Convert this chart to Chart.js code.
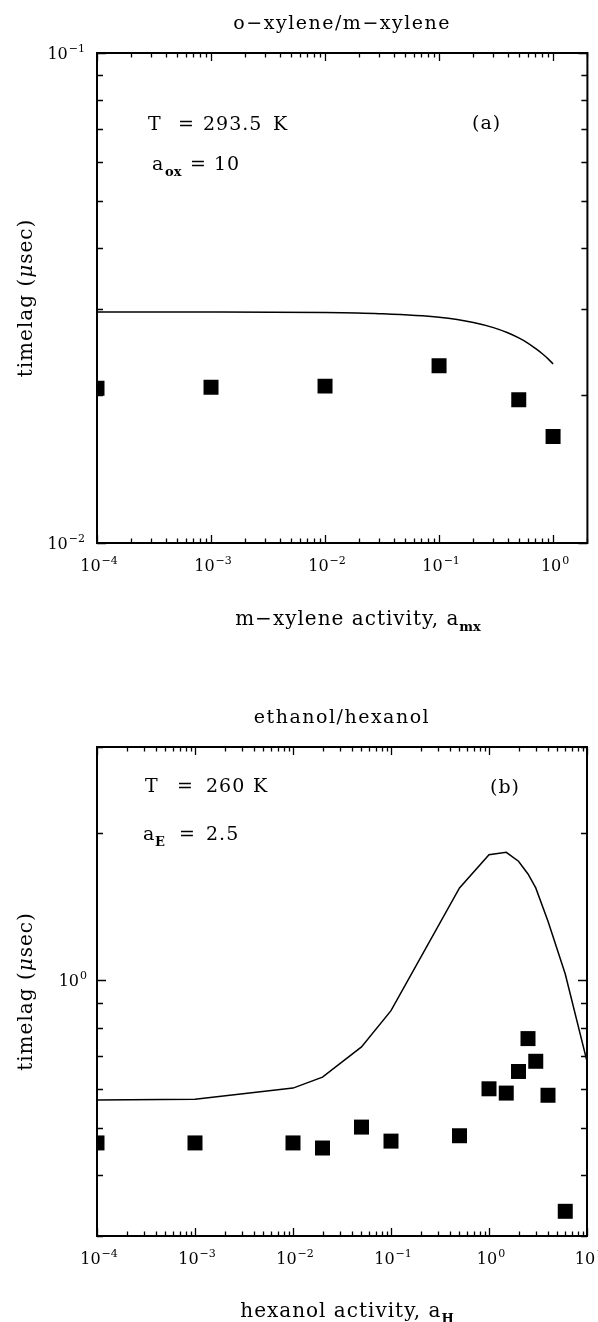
<!DOCTYPE html>
<html>
<head>
<meta charset="utf-8">
<script src="https://cdn.jsdelivr.net/npm/chart.js@4.4.1/dist/chart.umd.min.js"></script>
<style>
  html, body { margin: 0; padding: 0; background: #fff; }
  #wrap { position: relative; width: 598px; height: 1322px; overflow: hidden; }
  canvas { position: absolute; left: 0; }
</style>
</head>
<body>
<div id="wrap">
  <canvas id="chartA" width="598" height="650" style="top:0"></canvas>
  <canvas id="chartB" width="598" height="672" style="top:650px"></canvas>
</div>
<script>
// ---- panel (a): o-xylene / m-xylene, T = 293.5 K
const A_X = [1e-4, 1e-3, 1e-2, 1e-1, 0.5, 1.0];
const A_Y = [0.0207, 0.0208, 0.0209, 0.0230, 0.0196, 0.0165];
const A_FIT_X = [1e-4, 1e-3, 1e-2, 0.03, 0.1, 0.2, 0.3, 0.4, 0.5, 0.6, 0.7, 0.8, 0.9, 1.0];
const A_FIT_Y = [0.0296, 0.0296, 0.02954, 0.02938, 0.02888, 0.02819, 0.02751, 0.02685,
                 0.02621, 0.02559, 0.02495, 0.02436, 0.02378, 0.0232];
const A_XTICKS = [1e-4, 1e-3, 1e-2, 1e-1, 1];
const A_YTICKS = [0.01, 0.1];

// ---- panel (b): ethanol / hexanol, T = 260 K
const B_X = [1e-4, 1e-3, 1e-2, 2e-2, 5e-2, 0.1, 0.5, 1.0, 1.5, 2.0, 2.5, 3.0, 4.0, 6.0];
const B_Y = [0.465, 0.465, 0.465, 0.454, 0.501, 0.469, 0.481, 0.600, 0.588, 0.651, 0.760, 0.683, 0.582, 0.337];
const B_FIT_X = [1e-4, 1e-3, 1e-2, 2e-2, 5e-2, 0.1, 0.5, 1.0, 1.5, 2.0, 2.5, 3.0, 4.0, 6.0, 10];
const B_FIT_Y = [0.569, 0.571, 0.602, 0.634, 0.731, 0.867, 1.545, 1.807, 1.827, 1.752, 1.65, 1.545, 1.32, 1.03, 0.683];
const B_XTICKS = [1e-4, 1e-3, 1e-2, 1e-1, 1, 10];
const B_YTICKS = [1];

const SERIF = '"DejaVu Serif", "Liberation Serif", serif';

// 1..9 x 10^n inside [min, max], decade marks flagged as major
function logMarks(min, max) {
  const out = [];
  for (let d = Math.floor(Math.log10(min)); d <= Math.ceil(Math.log10(max)); d++)
    for (let k = 1; k <= 9; k++) {
      const v = +(k * Math.pow(10, d)).toPrecision(6);
      if (v >= min * 0.999 && v <= max * 1.001) out.push({ v, major: k === 1 });
    }
  return out;
}

// "10" with a raised exponent; y is the vertical centre of the digits
function powLabel(ctx, v, x, y, align) {
  const e = String(Math.round(Math.log10(v))).replace("-", "\u2212");
  ctx.font = "16px " + SERIF; const w1 = ctx.measureText("10").width;
  ctx.font = "11px " + SERIF; const w2 = ctx.measureText(e).width;
  const left = align === "right" ? x - w1 - w2 - 1 : x - (w1 + w2 + 1) / 2;
  ctx.textAlign = "left"; ctx.textBaseline = "alphabetic";
  ctx.font = "16px " + SERIF; ctx.fillText("10", left, y + 6);
  ctx.font = "11px " + SERIF; ctx.fillText(e, left + w1 + 1, y - 1);
}

// text runs: [text, kind] with kind '' normal | 's' bold subscript | 'i' italic
const fontOf = (k, size) => k === "s" ? "bold 13px " + SERIF : (k === "i" ? "italic " : "") + size + "px " + SERIF;
function richWidth(ctx, parts, size, ls) {
  let w = 0;
  parts.forEach(([t, k]) => { ctx.font = fontOf(k, size); ctx.letterSpacing = (k === "s" ? 0 : ls) + "px"; w += ctx.measureText(t).width; });
  return w;
}
function rich(ctx, parts, cx, y, size, ls) {
  let x = cx - richWidth(ctx, parts, size, ls) / 2;
  ctx.textAlign = "left"; ctx.textBaseline = "alphabetic";
  parts.forEach(([t, k]) => {
    ctx.font = fontOf(k, size); ctx.letterSpacing = (k === "s" ? 0 : ls) + "px";
    ctx.fillText(t, x, y + (k === "s" ? 6 : 0));
    x += ctx.measureText(t).width;
  });
  ctx.letterSpacing = "0px";
}

// frame with inward ticks on all four sides, tick labels, title, notes and axis titles
const decor = cfg => ({
  id: "decor",
  afterDatasetsDraw(chart) {
    const { ctx, chartArea: a, scales: { x, y } } = chart;
    ctx.save();
    ctx.strokeStyle = "#000"; ctx.fillStyle = "#000";
    ctx.lineWidth = 2;
    ctx.strokeRect(a.left, a.top, a.right - a.left, a.bottom - a.top);
    ctx.lineWidth = 1.3;
    ctx.beginPath();
    logMarks(x.min, x.max).forEach(t => {
      const px = Math.round(x.getPixelForValue(t.v)) + 0.5, L = t.major ? 8 : 4.5;
      ctx.moveTo(px, a.bottom); ctx.lineTo(px, a.bottom - L);
      ctx.moveTo(px, a.top); ctx.lineTo(px, a.top + L);
    });
    logMarks(y.min, y.max).forEach(t => {
      const py = Math.round(y.getPixelForValue(t.v)) + 0.5, L = t.major ? 9 : 6;
      ctx.moveTo(a.left, py); ctx.lineTo(a.left + L, py);
      ctx.moveTo(a.right, py); ctx.lineTo(a.right - L, py);
    });
    ctx.stroke();

    // decade labels from the scales' own ticks
    x.ticks.forEach(t => powLabel(ctx, t.value, x.getPixelForValue(t.value) + 2, a.bottom + 22, "center"));
    y.ticks.forEach(t => powLabel(ctx, t.value, a.left - cfg.yLabelGap, y.getPixelForValue(t.value), "right"));

    // panel title
    rich(ctx, [[cfg.title, ""]], (a.left + a.right) / 2, cfg.titleY, 19, 1.5);
    // in-plot notes: each run placed at its own x
    cfg.notes.forEach(n => n.runs.forEach(([t, k, nx]) => {
      ctx.font = fontOf(k, 19); ctx.letterSpacing = (k === "s" ? 0 : 1) + "px";
      ctx.textAlign = "left"; ctx.textBaseline = "alphabetic";
      ctx.fillText(t, nx, n.y + (k === "s" ? 6 : 0));
    }));
    ctx.letterSpacing = "0px";
    rich(ctx, cfg.xTitle, cfg.xTitleX, a.bottom + cfg.xTitleDy, 20, 1);
    ctx.translate(32, (a.top + a.bottom) / 2);
    ctx.rotate(-Math.PI / 2);
    rich(ctx, [["timelag (", ""], ["\u03BC", "i"], ["sec)", ""]], 0, 0, 20, 1);
    ctx.restore();
  }
});

function makeChart(id, cfg) {
  return new Chart(document.getElementById(id), {
    type: "scatter",
    data: {
      datasets: [
        { type: "line", data: cfg.fitX.map((v, i) => ({ x: v, y: cfg.fitY[i] })),
          borderColor: "#000", borderWidth: 1.5, pointRadius: 0, fill: false,
          cubicInterpolationMode: cfg.smooth ? "monotone" : "default", tension: 0, clip: 0 },
        { data: cfg.x.map((v, i) => ({ x: v, y: cfg.y[i] })),
          pointStyle: "rect", pointRadius: 10.6, backgroundColor: "#000",
          borderColor: "#000", borderWidth: 0, clip: 0 },
      ],
    },
    options: {
      responsive: false, animation: false, events: [],
      layout: { padding: { left: 0, right: cfg.padRight, top: cfg.padTop, bottom: 0 } },
      plugins: { legend: { display: false }, tooltip: { enabled: false }, title: { display: false } },
      scales: {
        x: {
          type: "logarithmic", min: cfg.xmin, max: cfg.xmax,
          grid: { display: false }, border: { display: false },
          afterBuildTicks: s => { s.ticks = cfg.xticks.map(v => ({ value: v })); },
          afterFit: s => { s.height = cfg.xAxisH; s.paddingLeft = 0; s.paddingRight = 0; },
          ticks: { display: false, autoSkip: false },
        },
        y: {
          type: "logarithmic", min: cfg.ymin, max: cfg.ymax,
          grid: { display: false }, border: { display: false },
          afterBuildTicks: s => { s.ticks = cfg.yticks.map(v => ({ value: v })); },
          afterFit: s => { s.width = 97; s.paddingTop = 0; s.paddingBottom = 0; },
          ticks: { display: false, autoSkip: false },
        },
      },
    },
    plugins: [decor(cfg)],
  });
}

makeChart("chartA", {
  title: "o\u2212xylene/m\u2212xylene", titleY: 29, padTop: 53,
  x: A_X, y: A_Y, fitX: A_FIT_X, fitY: A_FIT_Y, smooth: true,
  xmin: 1e-4, xmax: 2, ymin: 0.01, ymax: 0.1, xticks: A_XTICKS, yticks: A_YTICKS,
  padRight: 10, xAxisH: 107, yLabelGap: 12,
  xTitle: [["m\u2212xylene activity, a", ""], ["mx", "s"]], xTitleX: 358, xTitleDy: 82,
  notes: [
    { y: 130, runs: [["T", "", 148], ["=", "", 178], ["293.5", "", 203], ["K", "", 273]] },
    { y: 129, runs: [["(a)", "", 472]] },
    { y: 170, runs: [["a", "", 152], ["ox", "s", 165], ["=", "", 190], ["10", "", 214]] },
  ],
});

makeChart("chartB", {
  title: "ethanol/hexanol", titleY: 73, padTop: 97,
  x: B_X, y: B_Y, fitX: B_FIT_X, fitY: B_FIT_Y, smooth: false,
  xmin: 1e-4, xmax: 10, ymin: 0.3, ymax: 3, xticks: B_XTICKS, yticks: B_YTICKS,
  padRight: 11, xAxisH: 86, yLabelGap: 10,
  xTitle: [["hexanol activity, a", ""], ["H", "s"]], xTitleX: 347, xTitleDy: 81,
  notes: [
    { y: 142, runs: [["T", "", 145], ["=", "", 177], ["260", "", 206], ["K", "", 253]] },
    { y: 143, runs: [["(b)", "", 490]] },
    { y: 190, runs: [["a", "", 143], ["E", "s", 155], ["=", "", 179], ["2.5", "", 206]] },
  ],
});
</script>
</body>
</html>
